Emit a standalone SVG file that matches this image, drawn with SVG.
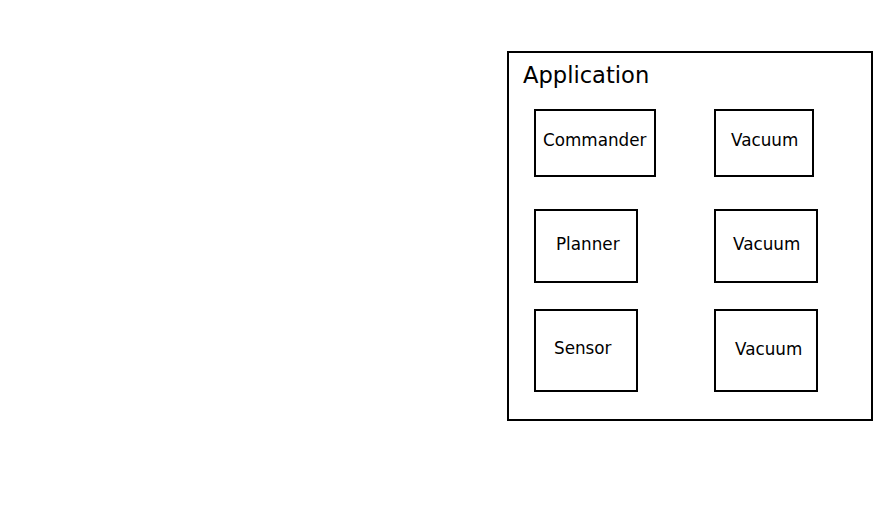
<svg xmlns="http://www.w3.org/2000/svg" width="873" height="517" viewBox="0 0 873 517">
<style>
.box{fill:#fff;stroke:#000;stroke-width:2}
.lbl{font-family:"DejaVu Sans",sans-serif;font-size:16.8px;fill:#000}
.title{font-family:"DejaVu Sans",sans-serif;font-size:22.6px;fill:#000}
</style>
<rect width="873" height="517" fill="#fff"/>
<g id="application">
<rect class="box" x="508" y="52" width="364" height="368"/>
<text class="title" x="523" y="83">Application</text>
</g>
<g id="commander"><rect class="box" x="535" y="110" width="120" height="66"/><text class="lbl" x="543" y="146">Commander</text></g>
<g id="vacuum1"><rect class="box" x="715" y="110" width="98" height="66"/><text class="lbl" x="731" y="146">Vacuum</text></g>
<g id="planner"><rect class="box" x="535" y="210" width="102" height="72"/><text class="lbl" x="556" y="250">Planner</text></g>
<g id="vacuum2"><rect class="box" x="715" y="210" width="102" height="72"/><text class="lbl" x="733" y="250">Vacuum</text></g>
<g id="sensor"><rect class="box" x="535" y="310" width="102" height="81"/><text class="lbl" x="554" y="354">Sensor</text></g>
<g id="vacuum3"><rect class="box" x="715" y="310" width="102" height="81"/><text class="lbl" x="735" y="355">Vacuum</text></g>
<g id="connectors"></g>
</svg>
